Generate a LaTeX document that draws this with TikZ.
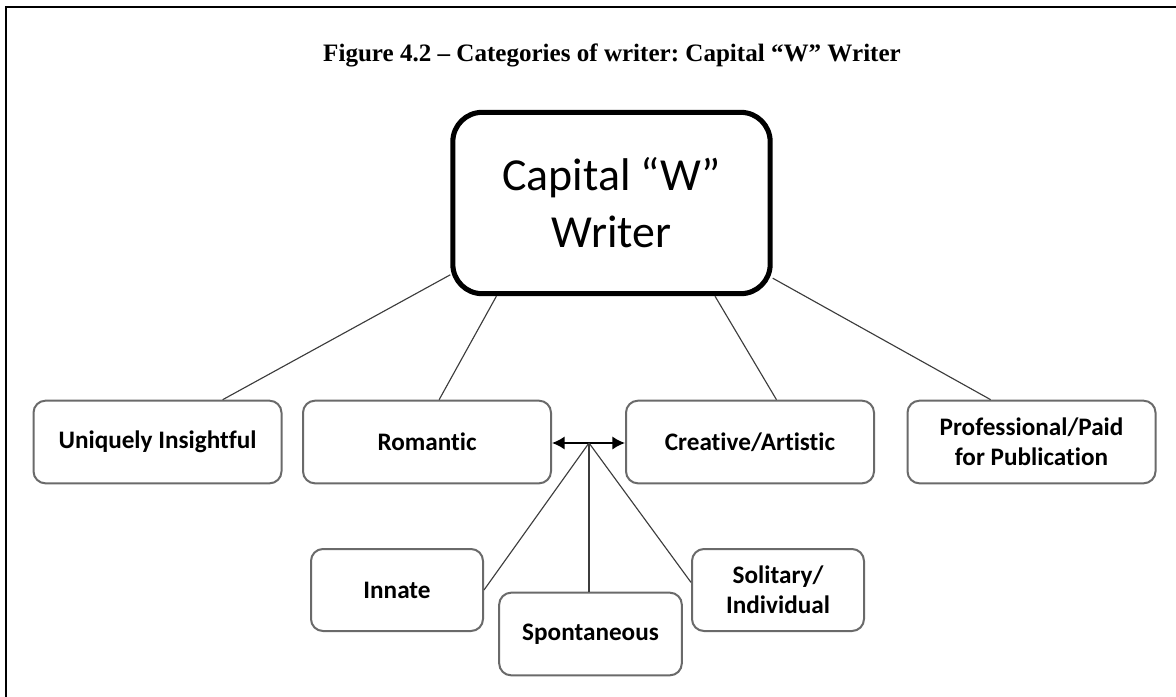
\documentclass[tikz,border=0pt]{standalone}
\usepackage{fontspec}
\setmainfont[Ligatures={NoCommon}]{Carlito}
\newfontfamily\titlefont[Ligatures=TeX]{Liberation Serif}
\frenchspacing
\usetikzlibrary{arrows.meta}
\definecolor{boxgray}{HTML}{6A6A6A}
\definecolor{linegray}{HTML}{3C3C3C}
\tikzset{
  catbox/.style={draw=boxgray, line width=1.5pt, rounded corners=9pt, fill=white,
    align=center, font=\fontsize{18.9}{22.5}\selectfont\bfseries, inner sep=0pt},
  mainbox/.style={draw=black, line width=3.8pt, rounded corners=22pt, fill=white,
    align=center, font=\fontsize{34.4}{42.75}\selectfont, inner sep=0pt,
    minimum width=238pt, minimum height=136pt},
  link/.style={draw=linegray, line width=0.85pt},
  dblarrow/.style={draw=black, line width=1.4pt, -{Latex[length=9.5pt,width=10pt]}},
}
\begin{document}
\begin{tikzpicture}[x=0.75pt, y=-0.75pt]
\useasboundingbox (0,0) rectangle (1176,696);
% frame
\draw[line width=1.6pt] (6,700) -- (6,7) -- (1180,7);
% title
\node[anchor=base, inner sep=0pt, font=\titlefont\fontsize{18.8}{22}\selectfont\bfseries] (title) at (612,61)
  {Figure 4.2 – Categories of writer: Capital “W” Writer};
% main
\node[mainbox] (main) at (611.5,203) {Capital “W”\\Writer};
% level 2
\node[catbox, minimum width=186pt, minimum height=62pt] (uniq) at (157.5,442) {Uniquely Insightful};
\node[catbox, minimum width=186pt, minimum height=62pt] (rom) at (427,442) {Romantic};
\node[catbox, minimum width=186pt, minimum height=62pt] (crea) at (750,442) {Creative/Artistic};
\node[catbox, minimum width=186pt, minimum height=62pt] (prof) at (1031.5,442) {Professional/Paid\\for Publication};
% level 3
\node[catbox, minimum width=129pt, minimum height=61.5pt] (innate) at (397,590) {Innate};
\node[catbox, minimum width=137pt, minimum height=62pt] (spont) at (590.5,634) {Spontaneous};
\node[catbox, minimum width=129pt, minimum height=61.5pt] (solit) at (778,590) {Solitary/\\Individual};
% connectors from main
\draw[link] (main.204.3) -- (uniq.33.1);
\draw[link] (main.219.3) -- (rom.74);
\draw[link] (main.318.3) -- (crea.58.2);
\draw[link] (main.335.7) -- (prof.134.7);
% junction
\coordinate (J) at (589,443);
\draw[dblarrow] (J) -- (J -| rom.east);
\draw[dblarrow] (J) -- (J -| crea.west);
\draw[link] (J) -- (innate.east);
\draw[link] (J) -- (J |- spont.north);
\draw[link] (J) -- (solit.175);
\end{tikzpicture}
\end{document}
